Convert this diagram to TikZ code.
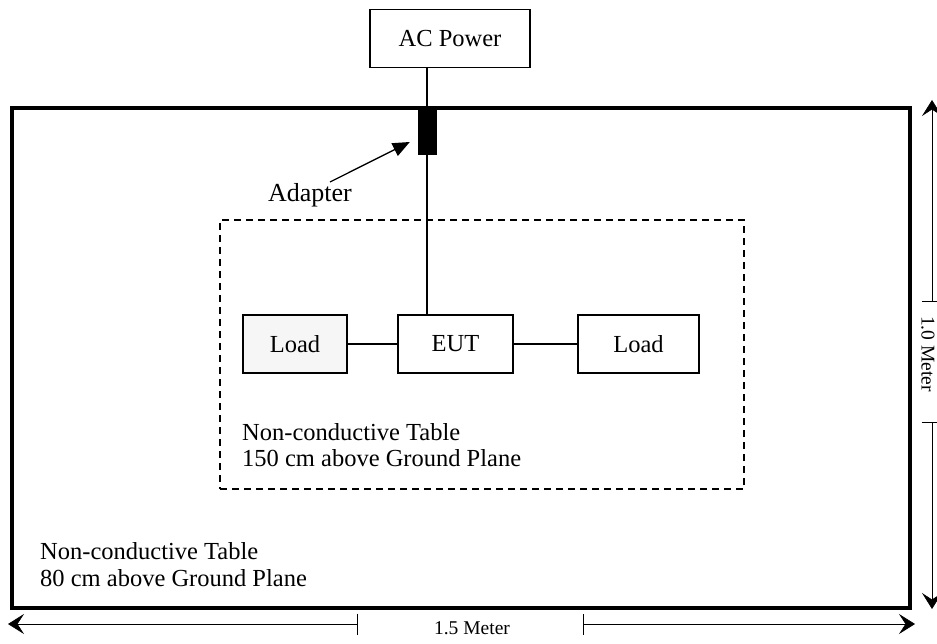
\documentclass[tikz,border=0pt]{standalone}
\usepackage{fontspec}
\setmainfont{Liberation Serif}
\usetikzlibrary{positioning,arrows.meta}

\begin{document}
\begin{tikzpicture}[x=1pt, y=-1pt]
    \def\boxh{58pt}
    \def\txt{\fontsize{24.5}{26.5}\selectfont}
    \def\dimtxt{\fontsize{19.5}{22}\selectfont}
    \tikzset{
      unit/.style={rectangle, draw, line width=1.3pt, inner sep=0pt, minimum height=\boxh, font=\txt},
      dimline/.style={line width=1pt, {Bar[width=21pt,line width=1.3pt]}-{Stealth[length=16pt,width=20pt,inset=6.5pt,line width=0.6pt]}}
    }
    \useasboundingbox (0,0) rectangle (937,644);

    % tables
    \node[rectangle, draw, line width=3.5pt, inner sep=0pt, minimum width=898pt, minimum height=500pt] (table80) at (461,358) {};
    \node[rectangle, draw, dashed, line width=1.3pt, dash pattern=on 7pt off 5pt, inner sep=0pt, minimum width=524pt, minimum height=269pt] (table150) at (482,354.5) {};

    % units
    \node[unit, minimum width=160pt] (ac) at (450,38.5) {AC Power};
    \node[unit, minimum width=104pt, fill=gray!7] (loadl) at (295,344) {Load};
    \node[unit, minimum width=115pt] (eut) at (455.5,344) {EUT};
    \node[unit, minimum width=121pt] (loadr) at (638.5,344) {Load};
    \node[rectangle, fill=black, inner sep=0pt, minimum width=19pt, minimum height=47pt] (adapter) at (427.5,131.5) {};
    \coordinate (feed) at (427,0);

    \draw[line width=1.3pt] (ac.south -| feed) -- (eut.north -| feed);
    \draw[line width=1.3pt] (loadl.east) -- (eut.west);
    \draw[line width=1.3pt] (eut.east) -- (loadr.west);

    \node[font=\fontsize{26}{30}\selectfont] (adlabel) at (310,195) {Adapter};
    \draw[line width=1.3pt, -{Triangle[length=17pt,width=14pt]}] ([xshift=20pt, yshift=13pt]adlabel.center) -- ([xshift=-8pt, yshift=-10.5pt]adapter.west);

    \node[anchor=west, align=left, inner sep=0pt, font=\txt] (note150) at (242,445) {Non-conductive Table\\150 cm above Ground Plane};
    \node[anchor=west, align=left, inner sep=0pt, font=\txt] (note80) at (40,564.5) {Non-conductive Table\\80 cm above Ground Plane};

    % dimensions
    \node[font=\dimtxt] (width) at (472,628) {1.5 Meter};
    \coordinate (wl) at (8,624);
    \coordinate (wr) at (915,624);
    \draw[dimline] (358,624) -- (wl);
    \draw[dimline] (583,624) -- (wr);

    \node[font=\dimtxt, rotate=-90] (height) at (928,354) {1.0 Meter};
    \coordinate (ht) at (932,100);
    \coordinate (hb) at (932,609);
    \draw[dimline] (932,302) -- (ht);
    \draw[dimline] (932,422) -- (hb);
  \end{tikzpicture}
\end{document}
